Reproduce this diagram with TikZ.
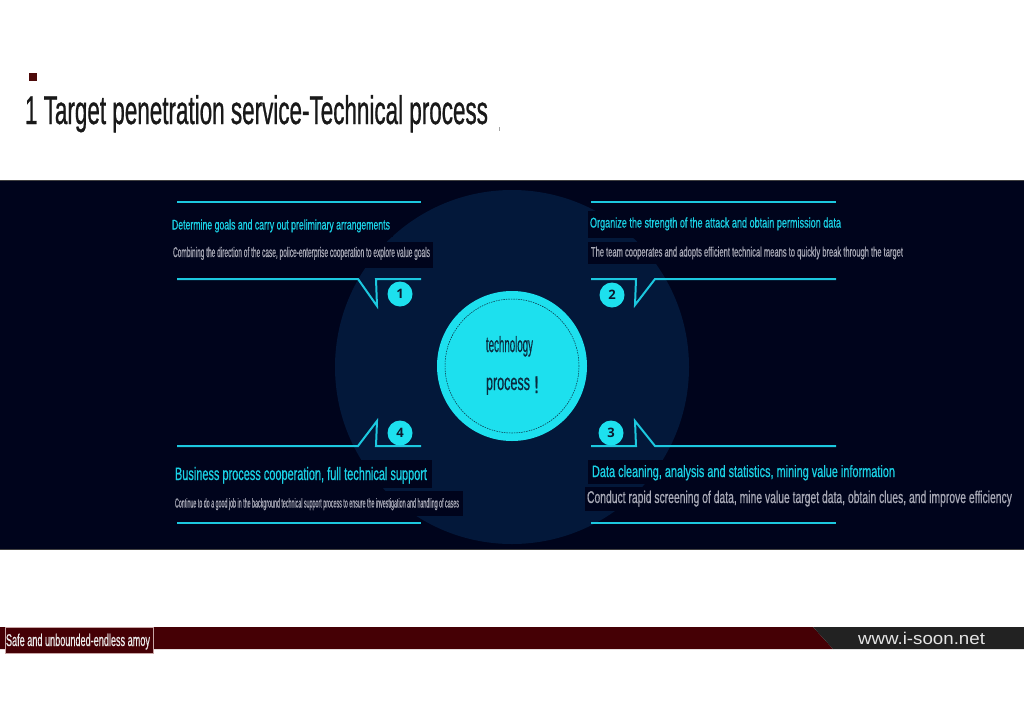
\documentclass[tikz,border=0pt]{standalone}
\usepackage{fontspec}
\usepackage{graphicx}
\setmainfont{Liberation Sans}
\newfontfamily\numfont{Open Sans}
\newfontfamily\firm[FakeBold=0.7]{Liberation Sans}
\newfontfamily\heavy[FakeBold=1.0]{Liberation Sans}

% palette
\definecolor{band}{HTML}{00041C}
\definecolor{ring}{HTML}{03183A}
\definecolor{cyanline}{HTML}{1CC8DF}
\definecolor{cyantext}{HTML}{1AD2E6}
\definecolor{cyanfill}{HTML}{1DE0EE}
\definecolor{subgray}{HTML}{A8A9B6}
\definecolor{corefont}{HTML}{0B2A3E}
\definecolor{numfont}{HTML}{0A1A2E}
\definecolor{footred}{HTML}{450005}
\definecolor{footgray}{HTML}{222222}
\definecolor{labeledge}{HTML}{C8A6A6}
\definecolor{marker}{HTML}{4D0A0A}

% text squeezed to a given width (pt), at a given size (pt)
\newcommand\fw[4][\firm]{\resizebox{#2pt}{\height}{#1\fontsize{#3pt}{#3pt}\selectfont #4}}

\tikzset{
  txt/.style={anchor=base west, inner sep=0pt, outer sep=0pt},
  headtxt/.style={txt, text=cyantext},
  subtxt/.style={txt, text=subgray},
  callout/.style={draw=cyanline, line width=2pt, line join=miter},
  textbg/.style={fill=band},
  numc/.style={circle, fill=cyanfill, minimum size=25pt, inner sep=0pt,
    text=numfont, font=\numfont\bfseries\fontsize{13pt}{13pt}\selectfont},
}

\begin{document}
\begin{tikzpicture}[x=1pt,y=-1pt]
\useasboundingbox (0,0) rectangle (1024,723);
\fill[white] (0,0) rectangle (1024,723);

% heading
\fill[marker] (29,73) rectangle (37,81);
\node[txt, text=black!90] (title) at (25,124)
  {\fw[\heavy]{463}{40}{1 Target penetration service-Technical process}};
\draw[black!35, line width=0.8pt] (499,127) -- (499,131);

% dark band with the ring behind the steps
\fill[band] (0,180) rectangle (1024,550);
\draw[black!75, line width=1pt] (0,180.5) -- (1024,180.5);
\draw[black!75, line width=1pt] (0,549.5) -- (1024,549.5);
\fill[ring] (512,367) circle[radius=177pt];

% centre disc
\node[circle, fill=cyanfill, minimum size=150pt, inner sep=0pt] (core) at (512,366) {};
\draw[corefont, line width=0.5pt, dash pattern=on 1.5pt off 1pt] (core.center) circle[radius=67pt];
\node[txt, text=corefont] (coreA) at (486,352) {\fw{47}{22}{technology}};
\node[txt, text=corefont] (coreB) at (486,390) {\fw{44}{23}{process}};
\node[txt, text=corefont] (coreC) at (534,393) {\fw[\heavy]{5}{24}{!}};

% backings behind the step texts
\fill[textbg] (168,213) rectangle (393,237);
\fill[textbg] (168,242) rectangle (433,268);
\fill[textbg] (588,211) rectangle (845,238);
\fill[textbg] (588,242) rectangle (906,264);
\fill[textbg] (588,460) rectangle (898,484);
\fill[textbg] (585,487) rectangle (1015,511);
\fill[textbg] (171,460) rectangle (432,488);
\fill[textbg] (171,491) rectangle (463,516);

% step 1
\draw[callout] (177,202) -- (421,202);
\draw[callout] (177,279) -- (358,279) -- (377,306) -- (376,279) -- (421,279);
\node[headtxt] (h1) at (172,229.5) {\fw{218}{14}{Determine goals and carry out preliminary arrangements}};
\node[subtxt] (s1) at (173,257) {\fw{257}{14}{Combining the direction of the case, police-enterprise cooperation to explore value goals}};
\node[numc] (n1) at (400,294) {1};

% step 2
\draw[callout] (591,202) -- (836,202);
\draw[callout] (591,279) -- (636,279) -- (635,305) -- (655,279) -- (836,279);
\node[headtxt] (h2) at (590,227.5) {\fw{251}{14}{Organize the strength of the attack and obtain permission data}};
\node[subtxt] (s2) at (591,256.5) {\fw{312}{13.5}{The team cooperates and adopts efficient technical means to quickly break through the target}};
\node[numc] (n2) at (612,295) {2};

% step 3
\draw[callout] (591,446) -- (636,446) -- (635,421) -- (655,446) -- (836,446);
\draw[callout] (591,523) -- (836,523);
\node[headtxt] (h3) at (592,477) {\fw{303}{16.5}{Data cleaning, analysis and statistics, mining value information}};
\node[subtxt] (s3) at (587,503) {\fw{425}{17}{Conduct rapid screening of data, mine value target data, obtain clues, and improve efficiency}};
\node[numc] (n3) at (611,433) {3};

% step 4
\draw[callout] (177,446) -- (358,446) -- (377,421) -- (376,446) -- (421,446);
\draw[callout] (177,523) -- (421,523);
\node[headtxt] (h4) at (175,480) {\fw{252}{18}{Business process cooperation, full technical support}};
\node[subtxt] (s4) at (175,507.5) {\fw{284}{13}{Continue to do a good job in the background technical support process to ensure the investigation and handling of cases}};
\node[numc] (n4) at (400,433) {4};

% footer bar
\fill[footred] (0,627) -- (813,627) -- (833,649) -- (0,649) -- cycle;
\fill[footgray] (813,627) -- (1024,627) -- (1024,649) -- (833,649) -- cycle;
\draw[labeledge, fill=footred, line width=0.8pt] (5,627) rectangle (153,653);
\node[txt, text=white!92!black] (slogan) at (6,646) {\fw{144}{17}{Safe and unbounded-endless amoy}};
\node[txt, text=white!90!black] (site) at (858,644) {\fw[\rmfamily]{127}{17}{www.i-soon.net}};
\end{tikzpicture}
\end{document}
